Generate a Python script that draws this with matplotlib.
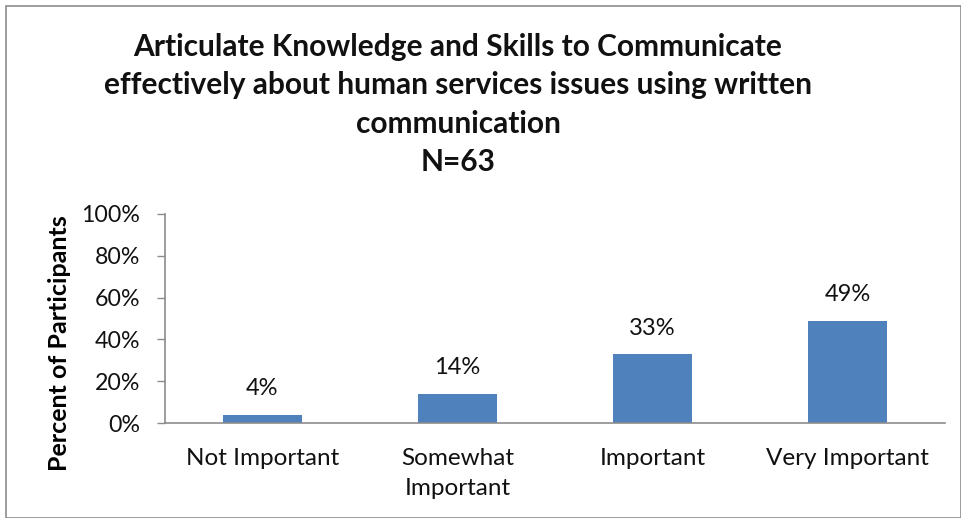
import matplotlib
matplotlib.use("Agg")
import matplotlib.pyplot as plt
from matplotlib.patches import Rectangle
from matplotlib.ticker import PercentFormatter

plt.rcParams['font.family'] = ['Lato', 'DejaVu Sans']

categories = ["Not Important", "Somewhat\nImportant", "Important", "Very Important"]
values = [4, 14, 33, 49]
yticks = [0, 20, 40, 60, 80, 100]
title = ("Articulate Knowledge and Skills to Communicate\n"
         "effectively about human services issues using written\n"
         "communication\nN=63")

W, H = 962, 518
fig = plt.figure(figsize=(W / 100, H / 100), dpi=100)
fig.patch.set_facecolor("white")

# chart-area border
fig.add_artist(Rectangle((6 / W, 0), (W - 7) / W, (H - 6) / H, transform=fig.transFigure,
                         fill=False, edgecolor="#8c8c8c", linewidth=1.2))

ax = fig.add_axes([165 / W, (H - 423) / H, (945 - 165) / W, (423 - 214) / H])
x = range(len(categories))
ax.bar(x, values, width=0.405, color="#4F81BD", zorder=2)
for xi, v in zip(x, values):
    ax.annotate(f"{v}%", (xi, v), xytext=(0, 11), textcoords="offset points",
                ha="center", va="bottom", fontsize=17, color="#111111")

ax.set_xlim(-0.5, len(categories) - 0.5)
ax.set_ylim(0, 100)
ax.set_yticks(yticks)
ax.yaxis.set_major_formatter(PercentFormatter(decimals=0))
ax.set_xticks(list(x))
ax.set_xticklabels(categories, fontsize=17.5, color="#111111", linespacing=1.55)
ax.tick_params(axis="x", length=0, pad=18)
ax.tick_params(axis="y", length=6, width=1, color="#8c8c8c", labelsize=16.7,
               labelcolor="#111111", pad=12)
for s in ["top", "right"]:
    ax.spines[s].set_visible(False)
for s in ["left", "bottom"]:
    ax.spines[s].set_color("#8c8c8c")
    ax.spines[s].set_linewidth(1.2)

ax.set_ylabel("Percent of Participants", fontsize=18, fontweight="bold")
ax.yaxis.set_label_coords(-0.12, 0.38)

fig.text(458 / W, 1 - 33 / H, title, ha="center", va="top", fontsize=21.5,
         fontweight="bold", linespacing=1.45, color="#111111")

fig.savefig("out.png", dpi=100)
